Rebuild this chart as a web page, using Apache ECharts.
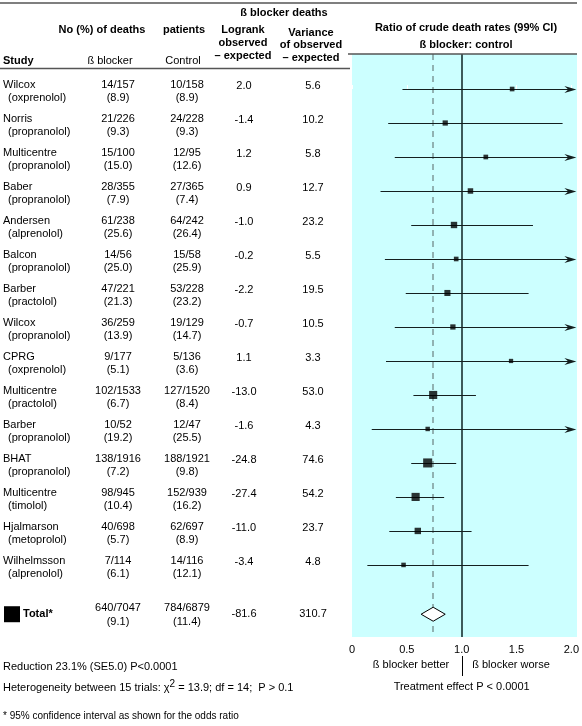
<!DOCTYPE html>
<html><head><meta charset="utf-8">
<script src="https://cdn.jsdelivr.net/npm/echarts@6.0.0/dist/echarts.min.js"></script>
<style>html,body{margin:0;padding:0;background:#fff}#c{width:582px;height:726px}</style>
</head><body><div id="c"></div>
<script>
// ---------- data ----------
const studies = ['Wilcox','Norris','Multicentre','Baber','Andersen','Balcon','Barber','Wilcox','CPRG','Multicentre','Barber','BHAT','Multicentre','Hjalmarson','Wilhelmsson'];
const drugs = ['oxprenolol','propranolol','propranolol','propranolol','alprenolol','propranolol','practolol','propranolol','oxprenolol','practolol','propranolol','propranolol','timolol','metoprolol','alprenolol'];
const bbDeaths   = [14,21,15,28,61,14,47,36,9,102,10,138,98,40,7];
const bbPatients = [157,226,100,355,238,56,221,259,177,1533,52,1916,945,698,114];
const bbPct      = [8.9,9.3,15.0,7.9,25.6,25.0,21.3,13.9,5.1,6.7,19.2,7.2,10.4,5.7,6.1];
const ctDeaths   = [10,24,12,27,64,15,53,19,5,127,12,188,152,62,14];
const ctPatients = [158,228,95,365,242,58,228,129,136,1520,47,1921,939,697,116];
const ctPct      = [8.9,9.3,12.6,7.4,26.4,25.9,23.2,14.7,3.6,8.4,25.5,9.8,16.2,8.9,12.1];
const oMinusE    = [2.0,-1.4,1.2,0.9,-1.0,-0.2,-2.2,-0.7,1.1,-13.0,-1.6,-24.8,-27.4,-11.0,-3.4];
const varOE      = [5.6,10.2,5.8,12.7,23.2,5.5,19.5,10.5,3.3,53.0,4.3,74.6,54.2,23.7,4.8];
const ratio      = [1.46,0.85,1.22,1.08,0.93,0.95,0.87,0.92,1.45,0.74,0.69,0.69,0.58,0.60,0.47];
const ciLow      = [0.46,0.33,0.39,0.26,0.54,0.30,0.49,0.39,0.31,0.56,0.18,0.54,0.40,0.34,0.14];
const ciHigh     = [4.2,1.92,3.6,2.3,1.65,3.0,1.61,2.02,6.0,1.13,2.6,0.95,0.84,1.09,1.61];
const totalBb = [640,7047,9.1];
const totalCt = [784,6879,11.4];
const totalOE = -81.6;
const totalVar = 310.7;
const totalRatio = 0.74, totalLow = 0.63, totalHigh = 0.85;
const xTicks = ['0','0.5','1.0','1.5','2.0'];

// ---------- layout / style ----------
const FONT = "'Liberation Sans', Arial, sans-serif";
const AX_MAX = 2;
const TOTAL_ROW = 15.45;
const LINE = '#141f1f';
const chart = echarts.init(document.getElementById('c'), null, {renderer:'canvas'});

function renderCI(params, api){
  const lo = api.value(0), i = api.value(1), hi = api.value(2);
  const p1 = api.coord([lo, i]);
  const y = Math.round(p1[1]) + 0.5;
  const ch = [];
  if (hi > AX_MAX) {
    const tip = api.coord([AX_MAX, i])[0] + 5;
    ch.push({type:'line', shape:{x1:p1[0], y1:y, x2:tip-6, y2:y}, style:{stroke:LINE, lineWidth:1.1}});
    ch.push({type:'polygon', shape:{points:[[tip,y],[tip-12,y-3.5],[tip-8,y],[tip-12,y+3.5]]}, style:{fill:LINE}});
  } else {
    const p2 = api.coord([hi, i]);
    ch.push({type:'line', shape:{x1:p1[0], y1:y, x2:p2[0], y2:y}, style:{stroke:LINE, lineWidth:1.1}});
  }
  return {type:'group', children:ch};
}
function renderDiamond(params, api){
  const lo = api.coord([api.value(0), api.value(1)]);
  const hi = api.coord([api.value(2), api.value(1)]);
  const mid = api.coord([api.value(3), api.value(1)]);
  const y = lo[1];
  return {type:'polygon', shape:{points:[[lo[0],y],[mid[0],y-7],[hi[0],y],[mid[0],y+7]]},
    style:{fill:'#fff', stroke:'#000', lineWidth:1}};
}

chart.setOption({
  animation:false,
  grid:{left:352, right:10, top:54, bottom:89, show:false},
  xAxis:{type:'value', min:0, max:AX_MAX, interval:0.5,
    axisLine:{show:false}, splitLine:{show:false},
    axisTick:{show:true, inside:true, length:4, lineStyle:{color:'#ffffff', width:1}},
    axisLabel:{color:'#000', fontSize:11, fontFamily:FONT, margin:7,
      formatter:(v)=> xTicks[Math.round(v/0.5)]}},
  yAxis:{type:'value', inverse:true, min:-1.03, max:16.12, show:false},
  series:[
    {type:'custom', renderItem:renderCI, clip:false, z:3,
      encode:{x:[0,2], y:1},
      data: ratio.map((r,i)=>[ciLow[i], i, ciHigh[i]])},
    {type:'scatter', symbol:'rect', z:4,
      symbolSize:(v)=> 3 + 0.7*Math.sqrt(v[2]),
      itemStyle:{color:'#000'},
      data: ratio.map((r,i)=>[r, i, varOE[i]]),
      markLine:{silent:true, symbol:'none', label:{show:false}, z:2,
        data:[
          {xAxis:1, lineStyle:{color:'#3d5a5a', width:2, type:'solid'}},
          {xAxis:totalRatio, lineStyle:{color:'#7d9999', width:1.5, type:[6,5]}}
        ]}},
    {type:'custom', renderItem:renderDiamond, z:5, encode:{x:[0,2,3], y:1},
      data:[[totalLow, TOTAL_ROW, totalHigh, totalRatio]]}
  ]
});

// ---------- table text ----------
const g = [];
const px = (x)=> chart.convertToPixel({xAxisIndex:0}, x);
const py = (i)=> chart.convertToPixel({yAxisIndex:0}, i);
function T(text, x, y, opt={}){
  g.push({type:'text', x, y, z:10, silent:true, style:Object.assign({
    text, font:(opt.bold?'bold ':'') + (opt.size||11) + 'px ' + FONT,
    fill:'#000', align:opt.align||'left', verticalAlign:'middle'}, opt.extra||{})});
}
function L(x1,y1,x2,y2,color,w){
  g.push({type:'line', z:9, silent:true, shape:{x1,y1,x2,y2}, style:{stroke:color, lineWidth:w}});
}
// background of the plot panel
g.push({type:'rect', z:-10, silent:true, shape:{x:352, y:54, width:225, height:583}, style:{fill:'#ccffff'}});
// rules
L(0,3,577,3,'#555',1.5);
L(0,68.5,350,68.5,'#555',1.5);
L(348,54,577,54,'#555',1.5);
// headers
T('ß blocker deaths', 284, 13, {bold:true, align:'center'});
T('No (%) of deaths', 102, 30, {bold:true, align:'center'});
T('patients', 184, 30, {bold:true, align:'center'});
T('Logrank', 243, 30, {bold:true, align:'center'});
T('observed', 243, 43, {bold:true, align:'center'});
T('– expected', 243, 56, {bold:true, align:'center'});
T('Variance', 311, 33, {bold:true, align:'center'});
T('of observed', 311, 45, {bold:true, align:'center'});
T('– expected', 311, 58, {bold:true, align:'center'});
T('Study', 3, 61, {bold:true});
T('ß blocker', 110, 61, {align:'center'});
T('Control', 183, 61, {align:'center'});
T('Ratio of crude death rates (99% CI)', 466, 28, {bold:true, align:'center'});
T('ß blocker: control', 466, 45, {bold:true, align:'center'});
// rows
studies.forEach((s,i)=>{
  const y = py(i);
  T(s, 3, y-4);
  T('(' + drugs[i] + ')', 8, y+9);
  T(bbDeaths[i] + '/' + bbPatients[i], 118, y-4, {align:'center'});
  T('(' + bbPct[i].toFixed(1) + ')', 118, y+9, {align:'center'});
  T(ctDeaths[i] + '/' + ctPatients[i], 187, y-4, {align:'center'});
  T('(' + ctPct[i].toFixed(1) + ')', 187, y+9, {align:'center'});
  T(oMinusE[i].toFixed(1), 244, y-3, {align:'center'});
  T(varOE[i].toFixed(1), 313, y-3, {align:'center'});
});
// total row
const ty = py(TOTAL_ROW);
g.push({type:'rect', z:10, silent:true, shape:{x:4, y:ty-8, width:16, height:16}, style:{fill:'#000'}});
T('Total*', 23, ty, {bold:true});
T(totalBb[0] + '/' + totalBb[1], 118, ty-6, {align:'center'});
T('(' + totalBb[2].toFixed(1) + ')', 118, ty+8, {align:'center'});
T(totalCt[0] + '/' + totalCt[1], 187, ty-6, {align:'center'});
T('(' + totalCt[2].toFixed(1) + ')', 187, ty+8, {align:'center'});
T(totalOE.toFixed(1), 244, ty, {align:'center'});
T(totalVar.toFixed(1), 313, ty, {align:'center'});
// footer
T('Reduction 23.1% (SE5.0) P<0.0001', 3, 667);
g.push({type:'text', x:3, y:688, z:10, silent:true, style:{
  text:'{a|Heterogeneity between 15 trials: χ}{s|2}{a| = 13.9; df = 14;  P > 0.1}',
  verticalAlign:'middle', align:'left',
  rich:{a:{font:'11px ' + FONT, fill:'#000'}, s:{font:'10px ' + FONT, fill:'#000', padding:[0,0,8,0]}}}});
T('* 95% confidence interval as shown for the odds ratio', 3, 716, {size:10});
const x1 = px(1);
T('ß blocker better', 411, 665, {align:'center'});
T('ß blocker worse', 511, 665, {align:'center'});
L(Math.round(x1)+0.5, 656, Math.round(x1)+0.5, 676, '#000', 1);
T('Treatment effect P < 0.0001', x1, 687, {align:'center'});
chart.setOption({graphic:g});
</script>
</body></html>
